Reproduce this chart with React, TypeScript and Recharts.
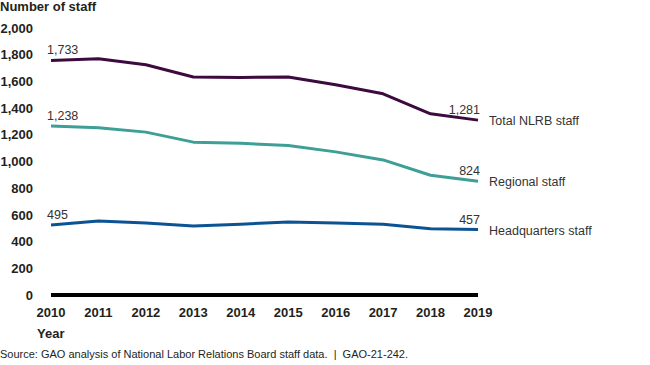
import React from 'react';
import { LineChart, Line, XAxis, YAxis, LabelList } from 'recharts';

const years = [2010, 2011, 2012, 2013, 2014, 2015, 2016, 2017, 2018, 2019];
const totalStaff = [1757, 1770, 1725, 1633, 1630, 1633, 1575, 1507, 1357, 1310];
const regionalStaff = [1265, 1252, 1220, 1145, 1136, 1120, 1072, 1012, 897, 852];
const hqStaff = [525, 555, 540, 517, 530, 547, 540, 530, 497, 490];
const yTicks = [0, 200, 400, 600, 800, 1000, 1200, 1400, 1600, 1800, 2000];

const seriesNames = ['Total NLRB staff', 'Regional staff', 'Headquarters staff'];
const startLabels = ['1,733', '1,238', '495'];
const endLabels = ['1,281', '824', '457'];

const data = years.map((year, i) => ({
  year,
  total: totalStaff[i],
  regional: regionalStaff[i],
  hq: hqStaff[i],
}));

const font = 'Arial, "Liberation Sans", Helvetica, sans-serif';
const textColor = '#231f20';
const labelColor = '#333';

const makeLabel = (s: number) => (props: any) => {
  const { x, y, index } = props;
  if (index === 0) {
    return (
      <text x={x - 4} y={y - 6} fontSize={12.5} fill={labelColor} fontFamily={font} textAnchor="start">
        {startLabels[s]}
      </text>
    );
  }
  if (index === years.length - 1) {
    return (
      <g>
        <text x={x + 2} y={y - 6} fontSize={12.5} fill={labelColor} fontFamily={font} textAnchor="end">
          {endLabels[s]}
        </text>
        <text x={x + 11} y={y + 5} fontSize={12.5} fill={labelColor} fontFamily={font} textAnchor="start">
          {seriesNames[s]}
        </text>
      </g>
    );
  }
  return null;
};

const App = () => {
  const fmt = (v: number) => v.toLocaleString('en-US');
  return (
    <div style={{ position: 'absolute', left: 0, top: 0, width: 650, height: 365, background: '#fff', fontFamily: font, color: textColor }}>
      <div style={{ position: 'absolute', left: 0, top: -1, fontSize: 13, fontWeight: 'bold' }}>Number of staff</div>
      <LineChart width={650} height={320} data={data} margin={{ top: 28, right: 172, bottom: 0, left: 0 }}>
        <XAxis
          dataKey="year"
          type="number"
          domain={[2010, 2019]}
          ticks={years}
          axisLine={{ stroke: '#000', strokeWidth: 4 }}
          tickLine={false}
          tickSize={0}
          tickMargin={13}
          height={25}
          tick={{ fontSize: 13, fontWeight: 'bold', fill: textColor, fontFamily: font }}
        />
        <YAxis
          domain={[0, 2000]}
          ticks={yTicks}
          tickFormatter={fmt}
          axisLine={false}
          tickLine={false}
          tickSize={0}
          tickMargin={18}
          width={51}
          tick={{ fontSize: 13, fontWeight: 'bold', fill: textColor, fontFamily: font }}
        />
        <Line type="linear" dataKey="total" stroke="#3c0a3e" strokeWidth={3} strokeLinejoin="round" dot={false} isAnimationActive={false}>
          <LabelList dataKey="total" content={makeLabel(0)} />
        </Line>
        <Line type="linear" dataKey="regional" stroke="#3d9f96" strokeWidth={3} strokeLinejoin="round" dot={false} isAnimationActive={false}>
          <LabelList dataKey="regional" content={makeLabel(1)} />
        </Line>
        <Line type="linear" dataKey="hq" stroke="#0c5394" strokeWidth={3} strokeLinejoin="round" dot={false} isAnimationActive={false}>
          <LabelList dataKey="hq" content={makeLabel(2)} />
        </Line>
      </LineChart>
      <div style={{ position: 'absolute', left: 37, top: 326, fontSize: 13, fontWeight: 'bold' }}>Year</div>
      <div style={{ position: 'absolute', left: 0, top: 348, fontSize: 11 }}>
        Source: GAO analysis of National Labor Relations Board staff data.&nbsp; |&nbsp; GAO-21-242.
      </div>
    </div>
  );
};

export default App;
